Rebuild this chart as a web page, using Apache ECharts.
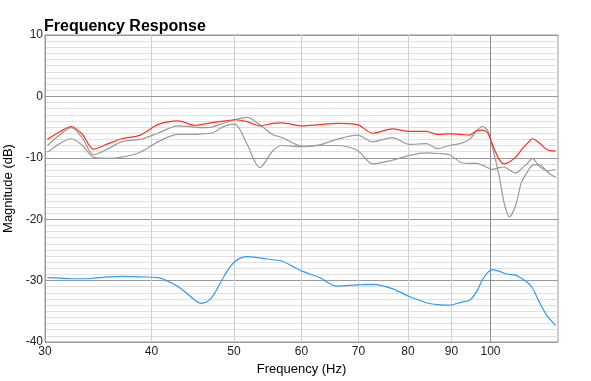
<!DOCTYPE html>
<html><head><meta charset="utf-8">
<script src="https://cdn.jsdelivr.net/npm/echarts@6/dist/echarts.min.js"></script>
<style>html,body{margin:0;padding:0;background:#fff}#c{width:591px;height:381px}</style>
</head><body><div id="c"></div>
<script>
const freqs = [30.2,31.2,32.2,33.2,34.2,35.6,36.9,38.8,40.7,43.0,45.0,45.8,47.0,48.8,50.1,51.8,53.6,55.5,56.9,60.2,63.0,66.0,69.8,72.7,76.7,80.3,84.1,86.7,89.5,92.5,94.5,96.3,97.8,99.2,100.5,102.4,103.8,105.2,107.0,108.7,110.5,112.0,114.1,116.6,119.2];
const red   = [-7.0,-5.8,-4.9,-6.2,-8.6,-7.7,-6.9,-6.3,-4.6,-4.0,-4.7,-4.6,-4.3,-4.0,-3.8,-4.1,-4.8,-4.4,-4.3,-4.8,-4.6,-4.4,-4.6,-6.0,-5.3,-5.7,-5.7,-6.2,-6.1,-6.2,-6.3,-5.6,-5.5,-5.9,-7.8,-10.3,-11.0,-10.7,-9.9,-8.7,-7.6,-6.9,-7.6,-8.7,-8.9];
const grayA = [-8.0,-6.3,-5.1,-6.8,-9.5,-8.5,-7.4,-7.0,-6.0,-4.8,-5.0,-5.1,-5.0,-4.3,-3.8,-3.4,-4.6,-6.2,-6.7,-8.1,-7.9,-7.0,-6.3,-7.4,-6.7,-7.8,-7.7,-8.5,-8.0,-7.6,-7.0,-5.6,-4.9,-5.5,-8.2,-13.1,-17.5,-19.6,-17.8,-14.0,-12.3,-11.2,-11.1,-12.3,-13.2];
const grayB = [-9.1,-7.7,-6.9,-8.0,-9.9,-10.1,-9.9,-9.1,-7.4,-6.2,-6.2,-6.1,-6.0,-4.8,-4.5,-7.8,-11.6,-8.9,-8.0,-8.2,-8.0,-8.0,-8.8,-11.0,-10.4,-9.6,-9.2,-9.3,-9.5,-10.8,-10.9,-10.9,-11.2,-11.6,-11.9,-11.6,-11.5,-12.0,-12.5,-11.8,-10.9,-10.1,-11.4,-12.1,-11.9];
const blue  = [-29.5,-29.6,-29.7,-29.7,-29.6,-29.4,-29.3,-29.4,-29.5,-31.0,-33.2,-33.7,-32.9,-29.0,-26.9,-26.1,-26.3,-26.6,-26.8,-28.5,-29.5,-30.9,-30.7,-30.6,-31.3,-32.6,-33.6,-33.9,-34.0,-33.5,-33.2,-31.8,-29.9,-28.7,-28.2,-28.5,-28.8,-29.0,-29.1,-29.6,-30.3,-31.2,-33.5,-35.8,-37.3];
const xTicks = [30,40,50,60,70,80,90,100];
const xMin = 30, xMax = 120;
const yMin = -40, yMax = 10, yStep = 10;

const pairs = arr => freqs.map((f, i) => [f, arr[i]]);
const font = 'Liberation Sans, Arial, Helvetica, sans-serif';
const lineSeries = (data, color, extra) => Object.assign({
  type: 'line', data: pairs(data), smooth: 0.3, showSymbol: false, symbol: 'none',
  lineStyle: { color: color, width: 1.2 }, itemStyle: { color: color }, silent: true, animation: false, z: 3
}, extra || {});

const chart = echarts.init(document.getElementById('c'), null, { renderer: 'canvas' });
chart.setOption({
  animation: false,
  backgroundColor: '#fff',
  title: { text: 'Frequency Response', left: 44, top: 19, padding: 0,
    textStyle: { fontFamily: font, fontSize: 16, fontWeight: 'bold', color: '#000' } },
  grid: { left: 45, right: 33, top: 35, bottom: 39, show: true, borderColor: '#999', borderWidth: 1,
    backgroundColor: 'transparent', containLabel: false, outerBoundsMode: 'none' },
  xAxis: {
    type: 'log', logBase: 10, min: xMin, max: xMax,
    name: 'Frequency (Hz)', nameLocation: 'middle', nameGap: 17,
    nameTextStyle: { fontFamily: font, fontSize: 13, color: '#000' },
    axisLine: { show: true, lineStyle: { color: '#999', width: 1 } },
    axisTick: { show: false, customValues: xTicks },
    axisLabel: { customValues: xTicks, fontFamily: font, fontSize: 12, color: '#222', margin: 4,
      formatter: v => String(Math.round(v)) },
    splitLine: { show: true, lineStyle: { color: '#cfcfcf', width: 1 } },
    minorSplitLine: { show: false }
  },
  yAxis: {
    type: 'value', min: yMin, max: yMax, interval: yStep,
    name: 'Magnitude (dB)', nameLocation: 'middle', nameGap: 24, nameRotate: 90,
    nameTextStyle: { fontFamily: font, fontSize: 13, color: '#000' },
    axisLine: { show: true, lineStyle: { color: '#999', width: 1 } },
    axisTick: { show: false },
    axisLabel: { fontFamily: font, fontSize: 12, color: '#222', margin: 2 },
    splitLine: { show: true, lineStyle: { color: '#999', width: 1 } },
    minorTick: { show: false, splitNumber: 10 },
    minorSplitLine: { show: true, lineStyle: { color: '#e0e0e0', width: 1 } }
  },
  series: [
    lineSeries(grayB, '#9a9a9a'),
    lineSeries(grayA, '#9a9a9a', {
      markLine: { silent: true, symbol: ['none', 'none'], label: { show: false },
        lineStyle: { color: '#8a8a8a', width: 1, type: 'solid' }, data: [{ xAxis: 100 }], z: 2 }
    }),
    lineSeries(red, '#ff2f1c'),
    lineSeries(blue, '#2c9cf0')
  ]
});
</script></body></html>
